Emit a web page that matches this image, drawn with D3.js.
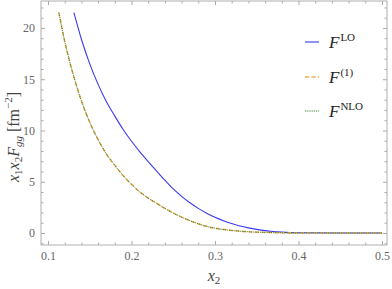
<!DOCTYPE html>
<meta charset="utf-8">
<html>
  <style>
    body { margin: 0; background: #fff; }
    text { font-family: "Liberation Serif", "DejaVu Serif", serif; }
    .tick text { fill: #666; font-size: 12px; }
    .tick line { stroke: #aaa; }
    .curve { fill: none; }
  </style>
  <head>
    <script src="https://d3js.org/d3.v7.min.js"></script>
  </head>
  <body>
    <script>
      // values
      var xLO  = [0.131, 0.14, 0.15, 0.16, 0.17, 0.18, 0.19, 0.20, 0.21, 0.22, 0.23, 0.24, 0.25, 0.26, 0.27, 0.28, 0.29, 0.30, 0.31, 0.32, 0.33, 0.34, 0.35, 0.36, 0.37, 0.38, 0.40, 0.45, 0.50];
      var fLO  = [21.5, 18.9, 16.5, 14.5, 12.8, 11.4, 10.1, 8.95, 7.92, 6.97, 6.05, 5.15, 4.3, 3.58, 2.95, 2.4, 1.93, 1.53, 1.2, 0.92, 0.68, 0.5, 0.35, 0.23, 0.15, 0.09, 0.03, 0, 0];
      var xNLO = [0.113, 0.12, 0.13, 0.14, 0.15, 0.16, 0.17, 0.18, 0.19, 0.20, 0.21, 0.22, 0.23, 0.24, 0.25, 0.26, 0.27, 0.28, 0.29, 0.30, 0.32, 0.34, 0.36, 0.38, 0.40, 0.45, 0.50];
      var f1   = [21.5, 18.7, 15.5, 12.9, 10.8, 9.1, 7.7, 6.6, 5.6, 4.75, 4.0, 3.4, 2.9, 2.4, 1.95, 1.55, 1.2, 0.9, 0.65, 0.47, 0.25, 0.12, 0.06, 0.02, 0.005, 0, 0];
      var fNLO = [21.5, 18.7, 15.5, 12.9, 10.8, 9.1, 7.7, 6.6, 5.6, 4.75, 4.0, 3.4, 2.9, 2.4, 1.95, 1.55, 1.2, 0.9, 0.65, 0.47, 0.25, 0.12, 0.06, 0.02, 0.005, 0, 0];
      var xTicks = [0.1, 0.2, 0.3, 0.4, 0.5];
      var yTicks = [0, 5, 10, 15, 20];

      var W = 392, H = 289;
      var pL = 41, pR = 387, pT = 1, pB = 245;

      var svg = d3.select("body").append("svg")
          .attr("width", W).attr("height", H);

      var x = d3.scaleLinear().domain([0.0916, 0.506]).range([pL, pR]);
      var y = d3.scaleLinear().domain([-1.17, 22.63]).range([pB, pT]);

      // minor ticks
      var xMinor = d3.range(0.1, 0.5001, 0.02).filter(function(v) { return Math.abs(v*10 - Math.round(v*10)) > 1e-6; });
      var yMinor = d3.range(-1, 22.5, 1).filter(function(v) { return v % 5 !== 0; });

      function frameAxis(axis, tr, vals, size, labels) {
        var g = svg.append("g").attr("transform", tr)
          .call(axis.tickValues(vals).tickSizeInner(size).tickSizeOuter(0).tickPadding(6)
                .tickFormat(labels ? d3.format("") : ""));
        g.select(".domain").remove();
        return g;
      }
      // bottom / top
      frameAxis(d3.axisBottom(x), "translate(0," + pB + ")", xTicks, -4, true);
      frameAxis(d3.axisBottom(x), "translate(0," + pB + ")", xMinor, -2.5, false);
      frameAxis(d3.axisTop(x), "translate(0," + pT + ")", xTicks, -4, false);
      frameAxis(d3.axisTop(x), "translate(0," + pT + ")", xMinor, -2.5, false);
      // left / right
      frameAxis(d3.axisLeft(y), "translate(" + pL + ",0)", yTicks, -4, true);
      frameAxis(d3.axisLeft(y), "translate(" + pL + ",0)", yMinor, -2.5, false);
      frameAxis(d3.axisRight(y), "translate(" + pR + ",0)", yTicks, -4, false);
      frameAxis(d3.axisRight(y), "translate(" + pR + ",0)", yMinor, -2.5, false);

      svg.append("rect")
        .attr("x", pL).attr("y", pT)
        .attr("width", pR - pL).attr("height", pB - pT)
        .attr("fill", "none").attr("stroke", "#b0b0b0").attr("stroke-width", 1);

      svg.append("clipPath").attr("id", "clip").append("rect")
        .attr("x", pL).attr("y", pT).attr("width", pR - pL).attr("height", pB - pT);

      var line = d3.line()
        .curve(d3.curveMonotoneX)
        .x(function(d) { return x(d[0]); })
        .y(function(d) { return y(d[1]); });

      var plot = svg.append("g").attr("clip-path", "url(#clip)");

      plot.append("path").datum(d3.zip(xLO, fLO))
        .attr("class", "curve").attr("d", line)
        .attr("stroke", "#3a3af0").attr("stroke-width", 1.1);
      plot.append("path").datum(d3.zip(xNLO, f1))
        .attr("class", "curve").attr("d", line)
        .attr("stroke", "#f7a84a").attr("stroke-width", 1.6).attr("stroke-dasharray", "4,2.5");
      plot.append("path").datum(d3.zip(xNLO, fNLO))
        .attr("class", "curve").attr("d", line)
        .attr("stroke", "#2a7a2a").attr("stroke-width", 0.9).attr("stroke-dasharray", "1.2,1");

      // legend
      var legend = [
        {sup: "LO", color: "#3a3af0", w: 1.1, dash: null, y: 42},
        {sup: "(1)", color: "#f7a84a", w: 1.6, dash: "4,2.5", y: 77},
        {sup: "NLO", color: "#2a7a2a", w: 0.9, dash: "1.2,1", y: 111}
      ];
      legend.forEach(function(d) {
        svg.append("line")
          .attr("x1", 305).attr("x2", 319).attr("y1", d.y).attr("y2", d.y)
          .attr("stroke", d.color).attr("stroke-width", d.w)
          .attr("stroke-dasharray", d.dash);
        var t = svg.append("text").attr("x", 329).attr("y", d.y + 6)
          .attr("font-size", 17).attr("fill", "#222");
        t.append("tspan").attr("font-style", "italic").text("F");
        t.append("tspan").attr("font-size", 11).attr("dy", -7).attr("dx", 1).text(d.sup);
      });

      // axis labels
      var xl = svg.append("text").attr("x", 214).attr("y", 281)
        .attr("text-anchor", "middle").attr("font-size", 16).attr("fill", "#444");
      xl.append("tspan").attr("font-style", "italic").text("x");
      xl.append("tspan").attr("font-size", 11).attr("dy", 3).text("2");

      var yl = svg.append("text")
        .attr("transform", "translate(19,137)rotate(-90)")
        .attr("text-anchor", "middle").attr("font-size", 16).attr("fill", "#444");
      yl.append("tspan").attr("font-style", "italic").text("x");
      yl.append("tspan").attr("font-size", 11).attr("dy", 3).text("1");
      yl.append("tspan").attr("font-style", "italic").attr("dy", -3).text("x");
      yl.append("tspan").attr("font-size", 11).attr("dy", 3).text("2");
      yl.append("tspan").attr("font-style", "italic").attr("dy", -3).text("F");
      yl.append("tspan").attr("font-size", 11).attr("font-style", "italic").attr("dy", 3).text("gg");
      yl.append("tspan").attr("dy", -3).text(" [fm");
      yl.append("tspan").attr("font-size", 11).attr("dy", -7).text("\u22122");
      yl.append("tspan").attr("dy", 7).text("]");
    </script>
  </body>
</html>
